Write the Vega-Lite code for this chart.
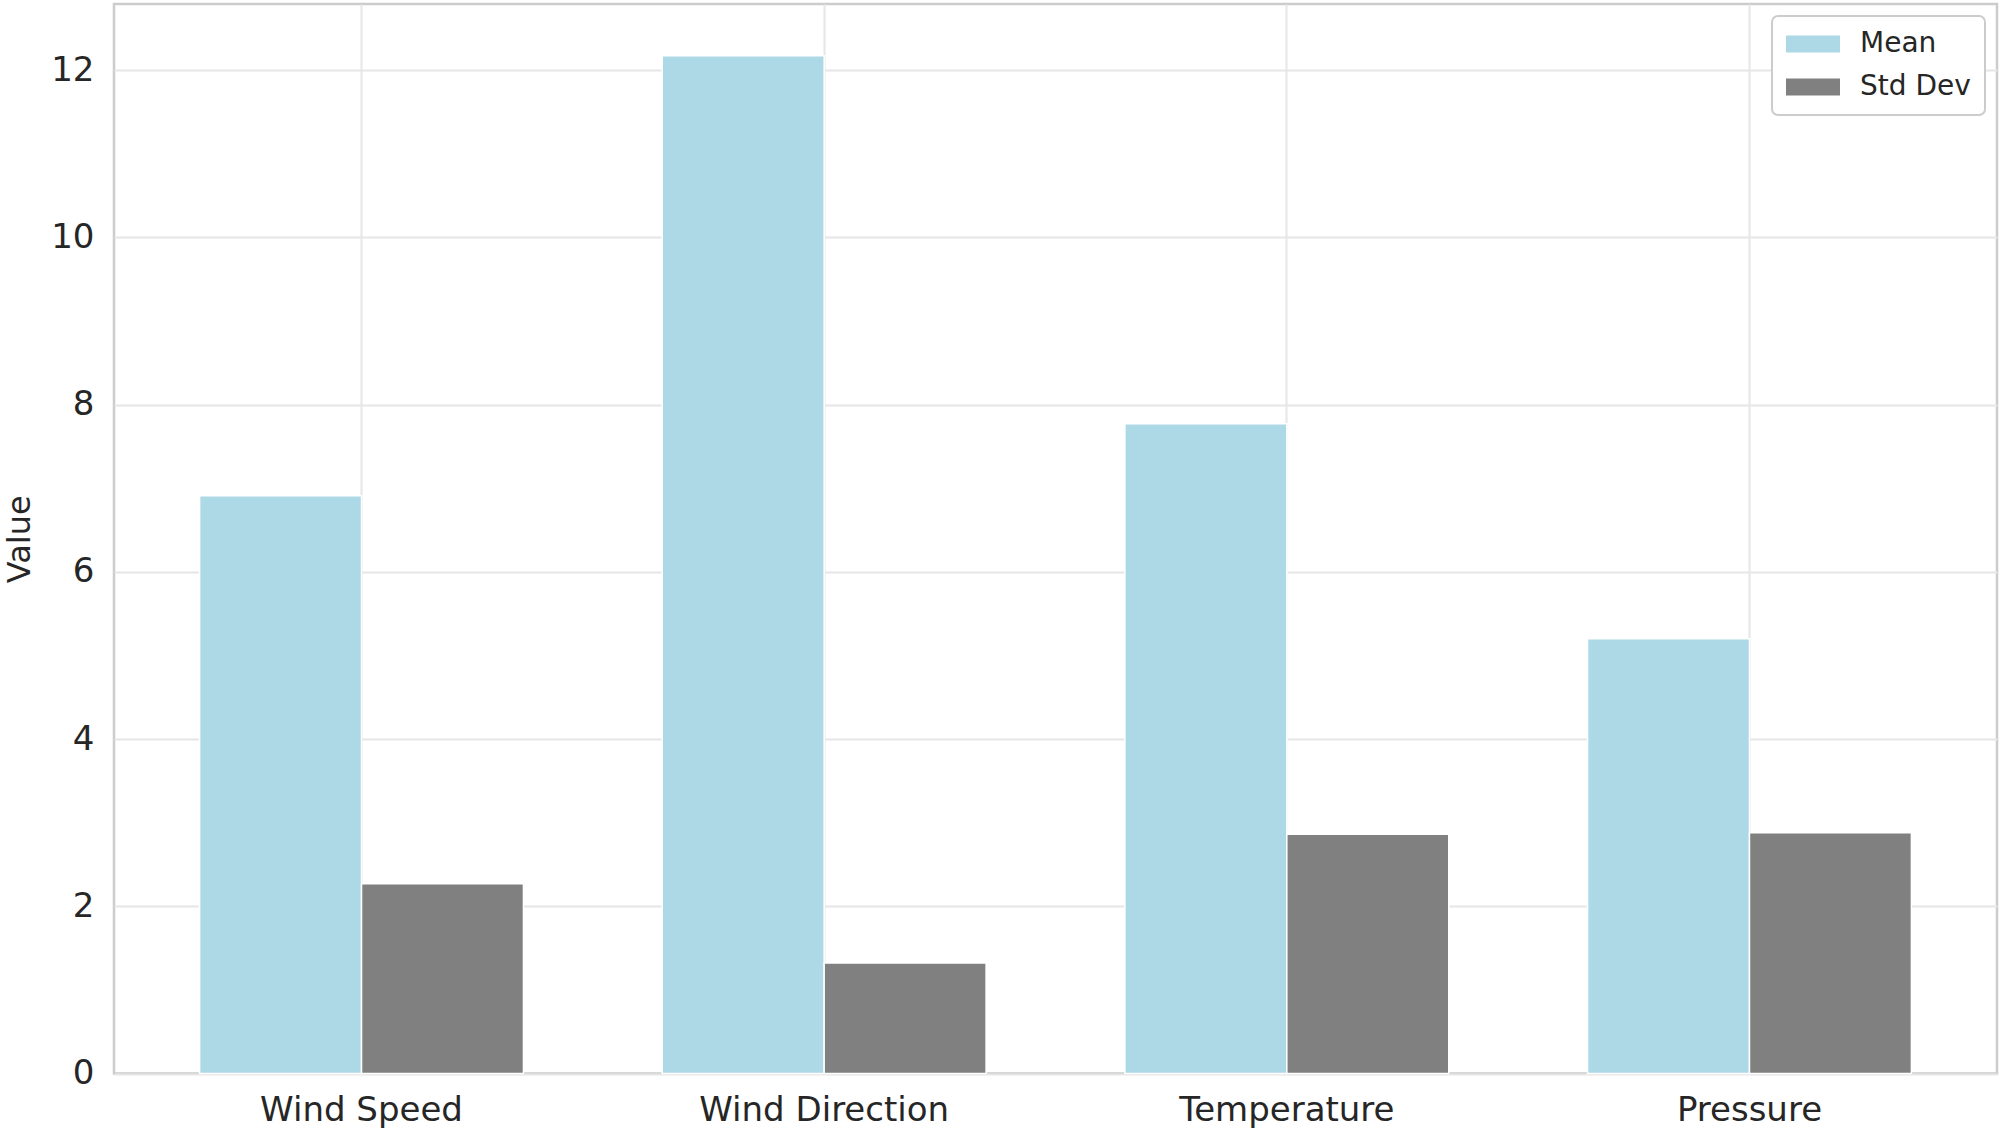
{
  "$schema": "https://vega.github.io/schema/vega-lite/v6.json",
  "width": 1883,
  "height": 1069.5,
  "autosize": {"type": "none"},
  "padding": {"left": 114, "top": 4, "right": 7, "bottom": 57},
  "background": "white",
  "config": {
    "font": "DejaVu Sans",
    "view": {"stroke": "#cccccc", "strokeWidth": 2.5},
    "axis": {
      "gridColor": "#e6e6e6",
      "gridWidth": 2,
      "domain": false,
      "ticks": false,
      "labelColor": "#262626",
      "titleColor": "#262626",
      "labelFontSize": 34,
      "titleFontSize": 32,
      "titleFontWeight": "normal",
      "labelLimit": 0
    },
    "legend": {"strokeWidth": 2}
  },
  "data": {
    "values": [
      {"variable": "Wind Speed", "stat": "Mean", "value": 6.91},
      {"variable": "Wind Speed", "stat": "Std Dev", "value": 2.27},
      {"variable": "Wind Direction", "stat": "Mean", "value": 12.17},
      {"variable": "Wind Direction", "stat": "Std Dev", "value": 1.32},
      {"variable": "Temperature", "stat": "Mean", "value": 7.77},
      {"variable": "Temperature", "stat": "Std Dev", "value": 2.86},
      {"variable": "Pressure", "stat": "Mean", "value": 5.2},
      {"variable": "Pressure", "stat": "Std Dev", "value": 2.88}
    ]
  },
  "mark": {"type": "bar", "stroke": "white", "strokeWidth": 1.5},
  "encoding": {
    "x": {
      "field": "variable",
      "type": "nominal",
      "sort": ["Wind Speed", "Wind Direction", "Temperature", "Pressure"],
      "scale": {"paddingInner": 0, "paddingOuter": 0.035},
      "axis": {"title": null, "labelAngle": 0, "labelPadding": 20, "grid": true, "bandPosition": 0.5}
    },
    "xOffset": {
      "field": "stat",
      "type": "nominal",
      "sort": ["Mean", "Std Dev"],
      "scale": {"paddingInner": 0, "paddingOuter": 0.4286}
    },
    "y": {
      "field": "value",
      "type": "quantitative",
      "scale": {"domain": [0, 12.79], "nice": false, "zero": true},
      "axis": {"title": "Value", "values": [0, 2, 4, 6, 8, 10, 12], "labelPadding": 20, "titlePadding": 14}
    },
    "color": {
      "field": "stat",
      "type": "nominal",
      "scale": {"domain": ["Mean", "Std Dev"], "range": ["#add8e6", "#808080"]},
      "legend": {
        "title": null,
        "orient": "top-right",
        "offset": 12,
        "labelFontSize": 28,
        "labelColor": "#262626",
        "symbolType": "M-1.077,-0.327H1.077V0.327H-1.077Z",
        "symbolSize": 2704,
        "clipHeight": 28,
        "symbolStrokeWidth": 0,
        "symbolOpacity": 1,
        "strokeColor": "#cccccc",
        "fillColor": "white",
        "cornerRadius": 6,
        "padding": 14,
        "rowPadding": 15,
        "labelOffset": 22
      }
    }
  }
}
